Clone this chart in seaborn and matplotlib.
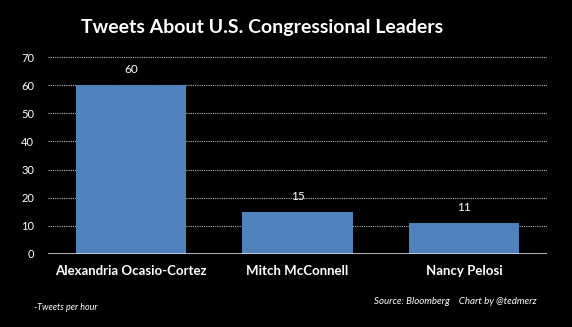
import matplotlib
matplotlib.use("Agg")
import matplotlib.pyplot as plt
import seaborn as sns
import pandas as pd

leaders = ["Alexandria Ocasio-Cortez", "Mitch McConnell", "Nancy Pelosi"]
tweets = [60, 15, 11]
yticks = [0, 10, 20, 30, 40, 50, 60, 70]

sns.set_style("dark")
plt.rcParams['font.family'] = ['Lato', 'DejaVu Sans']

df = pd.DataFrame({"leader": leaders, "tweets": tweets})

fig = plt.figure(figsize=(5.72, 3.27), dpi=100, facecolor="black")
ax = fig.add_axes([48/572, 73/327, 499/572, 197/327])
ax.set_facecolor("black")

sns.barplot(data=df, x="leader", y="tweets", color="#4F81BD", saturation=1,
            width=0.665, ax=ax, zorder=3, linewidth=0, edgecolor="none")

ax.set_xlim(-0.5, 2.5)
ax.set_ylim(0, 70)
ax.set_yticks(yticks)
ax.set_yticklabels([str(t) for t in yticks], color="white", fontsize=8)
ax.tick_params(axis="y", length=0, pad=10)
ax.tick_params(axis="x", length=0, pad=8)
for lbl in ax.get_xticklabels():
    lbl.set_color("white")
    lbl.set_fontweight("bold")
    lbl.set_fontsize(9.5)
ax.set_xlabel("")
ax.set_ylabel("")
ax.grid(False)
for y in yticks[1:]:
    ax.axhline(y, color="#bbbbbb", linestyle=(0, (1, 1)), linewidth=0.8, zorder=1)
ax.axhline(0, color="#d9d9d9", linewidth=1.2, zorder=4)
for s in ax.spines.values():
    s.set_visible(False)

for i, v in enumerate(tweets):
    ax.annotate(str(v), (i, v), xytext=(0, 7), textcoords="offset points",
                ha="center", va="bottom", color="white", fontsize=8.5)

fig.text(262/572, 1 - 27/327, "Tweets About U.S. Congressional Leaders",
         ha="center", va="center", color="white", fontsize=14, fontweight="bold")
fig.text(34/572, 1 - 308/327, "-Tweets per hour", ha="left", va="center",
         color="white", fontsize=6.5, style="italic")
fig.text(537/572, 1 - 301/327, "Source: Bloomberg    Chart by @tedmerz",
         ha="right", va="center", color="white", fontsize=7, style="italic")

fig.savefig("out.png", dpi=100, facecolor="black")
